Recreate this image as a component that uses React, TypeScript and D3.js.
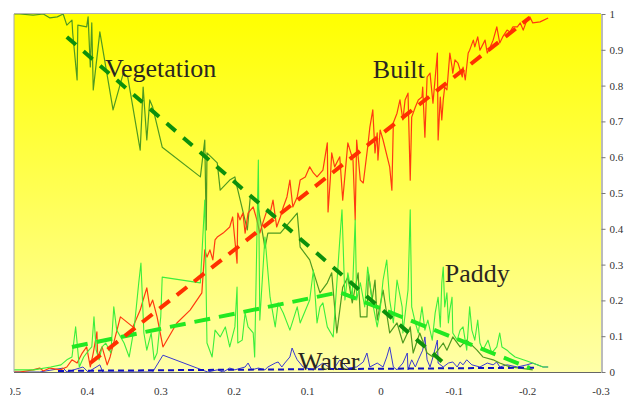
import { useEffect, useRef } from 'react'
import * as d3 from 'd3'

type Pt = [number, number]

// svg sits at page (8,8); the wrapper starts 2px further right so the "0.5" label is cut like the original
const W = 616
const H = 388
const PLOT = { l: 6, r: 593, t: 6, b: 364 }

const X_TICKS = [0.5, 0.4, 0.3, 0.2, 0.1, 0, -0.1, -0.2, -0.3]
const Y_TICKS = [0, 0.1, 0.2, 0.3, 0.4, 0.5, 0.6, 0.7, 0.8, 0.9, 1]

const vegetation: Pt[] = [
  [0.5, 1], [0.492, 1], [0.474, 0.997], [0.46, 1], [0.451, 0.989], [0.441, 0.992], [0.433, 1],
  [0.428, 0.969], [0.421, 0.983], [0.42, 0.947], [0.414, 0.816], [0.413, 0.969], [0.401, 0.964],
  [0.399, 0.992], [0.396, 0.852], [0.394, 0.975], [0.392, 0.788], [0.383, 0.95], [0.365, 0.732],
  [0.351, 0.835], [0.345, 0.824], [0.328, 0.62], [0.324, 0.796], [0.319, 0.648], [0.315, 0.76],
  [0.311, 0.74], [0.298, 0.628], [0.246, 0.545], [0.24, 0.648], [0.238, 0.397], [0.237, 0.612],
  [0.223, 0.584], [0.219, 0.508], [0.206, 0.536], [0.199, 0.545], [0.196, 0.517], [0.182, 0.397],
  [0.178, 0.489], [0.169, 0.48], [0.162, 0.397], [0.158, 0.346], [0.154, 0.388], [0.137, 0.388],
  [0.114, 0.444], [0.11, 0.349], [0.097, 0.313], [0.083, 0.221], [0.073, 0.249], [0.067, 0.277],
  [0.06, 0.109], [0.052, 0.237], [0.045, 0.265], [0.039, 0.193], [0.031, 0.277], [0.028, 0.154],
  [0.019, 0.154], [0.017, 0.277], [0.012, 0.201], [0.008, 0.257], [0.005, 0.145], [-0.003, 0.229],
  [-0.012, 0.109], [-0.022, 0.137], [-0.03, 0.081], [-0.04, 0.126], [-0.044, 0.053], [-0.053, 0.109],
  [-0.063, 0.053], [-0.071, 0.042], [-0.085, 0.081], [-0.09, 0.061], [-0.098, 0.098], [-0.108, 0.07],
  [-0.117, 0.089], [-0.131, 0.061], [-0.139, 0.042], [-0.153, 0.034], [-0.162, 0.025], [-0.176, 0.014],
  [-0.19, 0.011], [-0.207, 0.006],
]

const built: Pt[] = [
  [0.5, 0], [0.492, 0], [0.474, 0.006], [0.465, 0.011], [0.46, 0.003], [0.451, 0.011], [0.437, 0.006],
  [0.428, 0.014], [0.421, 0.034], [0.414, 0.025], [0.407, 0.053], [0.401, 0.07], [0.396, 0.014],
  [0.392, 0.053], [0.387, 0.112], [0.386, 0.042], [0.38, 0.07], [0.373, 0.02], [0.369, 0.042],
  [0.362, 0.098], [0.355, 0.154], [0.338, 0.126], [0.328, 0.173], [0.324, 0.201], [0.319, 0.235],
  [0.315, 0.182], [0.311, 0.201], [0.305, 0.154], [0.297, 0.07], [0.278, 0.137], [0.26, 0.173],
  [0.244, 0.221], [0.24, 0.341], [0.237, 0.321], [0.233, 0.341], [0.229, 0.313], [0.226, 0.369],
  [0.223, 0.377], [0.215, 0.388], [0.206, 0.405], [0.202, 0.433], [0.196, 0.304], [0.195, 0.444],
  [0.192, 0.425], [0.188, 0.444], [0.185, 0.388], [0.181, 0.444], [0.174, 0.461], [0.169, 0.425],
  [0.165, 0.388], [0.161, 0.416], [0.155, 0.453], [0.151, 0.444], [0.147, 0.48], [0.142, 0.405],
  [0.137, 0.433], [0.133, 0.461], [0.128, 0.489], [0.124, 0.536], [0.12, 0.461], [0.114, 0.489],
  [0.11, 0.536], [0.103, 0.545], [0.097, 0.573], [0.092, 0.556], [0.087, 0.545], [0.079, 0.564],
  [0.073, 0.64], [0.072, 0.447], [0.069, 0.536], [0.067, 0.612], [0.063, 0.573], [0.056, 0.601],
  [0.052, 0.48], [0.045, 0.64], [0.038, 0.592], [0.035, 0.425], [0.033, 0.648], [0.028, 0.536],
  [0.024, 0.528], [0.018, 0.628], [0.015, 0.684], [0.011, 0.732], [0.008, 0.612], [0.005, 0.668],
  [0.004, 0.592], [0.001, 0.676], [-0.003, 0.648], [-0.012, 0.573], [-0.015, 0.508], [-0.017, 0.696],
  [-0.022, 0.723], [-0.026, 0.76], [-0.03, 0.704], [-0.033, 0.76], [-0.037, 0.779], [-0.04, 0.536],
  [-0.042, 0.712], [-0.047, 0.74], [-0.051, 0.76], [-0.056, 0.768], [-0.057, 0.796], [-0.06, 0.656],
  [-0.063, 0.824], [-0.067, 0.835], [-0.071, 0.751], [-0.077, 0.891], [-0.078, 0.648], [-0.081, 0.768],
  [-0.083, 0.704], [-0.085, 0.76], [-0.087, 0.796], [-0.09, 0.788], [-0.094, 0.891], [-0.097, 0.852],
  [-0.098, 0.835], [-0.101, 0.872], [-0.105, 0.863], [-0.111, 0.824], [-0.112, 0.852], [-0.115, 0.816],
  [-0.119, 0.891], [-0.121, 0.899], [-0.126, 0.927], [-0.128, 0.908], [-0.132, 0.936], [-0.135, 0.899],
  [-0.142, 0.927], [-0.145, 0.891], [-0.149, 0.908], [-0.153, 0.927], [-0.158, 0.964], [-0.162, 0.919],
  [-0.166, 0.936], [-0.172, 0.955], [-0.176, 0.95], [-0.18, 0.964], [-0.186, 0.964], [-0.19, 0.975],
  [-0.194, 0.955], [-0.199, 0.983], [-0.203, 0.992], [-0.207, 0.975], [-0.217, 0.978], [-0.228, 0.989],
]

const paddy: Pt[] = [
  [0.5, 0.006], [0.473, 0.006], [0.45, 0.014], [0.436, 0.02], [0.428, 0.034], [0.421, 0.042],
  [0.416, 0.126], [0.411, 0.014], [0.405, 0.042], [0.398, 0.061], [0.394, 0.07], [0.391, 0.154],
  [0.388, 0.061], [0.384, 0.034], [0.38, 0.07], [0.375, 0.081], [0.368, 0.053], [0.364, 0.182],
  [0.36, 0.117], [0.35, 0.081], [0.343, 0.042], [0.336, 0.126], [0.33, 0.249], [0.327, 0.304],
  [0.323, 0.109], [0.319, 0.061], [0.313, 0.109], [0.309, 0.034], [0.305, 0.053], [0.3, 0.154],
  [0.298, 0.265], [0.246, 0.249], [0.24, 0.48], [0.237, 0.081], [0.23, 0.042], [0.226, 0.117],
  [0.219, 0.098], [0.212, 0.126], [0.206, 0.07], [0.199, 0.126], [0.196, 0.237], [0.195, 0.081],
  [0.189, 0.089], [0.185, 0.165], [0.181, 0.126], [0.174, 0.109], [0.172, 0.042], [0.167, 0.592],
  [0.165, 0.145], [0.158, 0.377], [0.151, 0.209], [0.144, 0.126], [0.14, 0.193], [0.133, 0.165],
  [0.124, 0.117], [0.114, 0.182], [0.11, 0.137], [0.097, 0.201], [0.092, 0.285], [0.087, 0.137],
  [0.083, 0.182], [0.079, 0.193], [0.073, 0.126], [0.065, 0.098], [0.056, 0.369], [0.053, 0.453],
  [0.049, 0.201], [0.045, 0.277], [0.039, 0.209], [0.035, 0.425], [0.033, 0.201], [0.028, 0.249],
  [0.022, 0.182], [0.018, 0.293], [0.012, 0.201], [0.005, 0.126], [0.001, 0.173], [-0.003, 0.257],
  [-0.008, 0.313], [-0.012, 0.201], [-0.017, 0.137], [-0.022, 0.257], [-0.029, 0.182], [-0.03, 0.109],
  [-0.037, 0.229], [-0.04, 0.453], [-0.042, 0.182], [-0.047, 0.137], [-0.051, 0.109], [-0.056, 0.182],
  [-0.06, 0.117], [-0.064, 0.145], [-0.07, 0.089], [-0.074, 0.165], [-0.078, 0.209], [-0.081, 0.126],
  [-0.083, 0.249], [-0.085, 0.293], [-0.087, 0.182], [-0.09, 0.221], [-0.092, 0.137], [-0.094, 0.173],
  [-0.097, 0.209], [-0.098, 0.109], [-0.104, 0.089], [-0.108, 0.117], [-0.112, 0.126], [-0.117, 0.061],
  [-0.121, 0.182], [-0.124, 0.117], [-0.128, 0.089], [-0.132, 0.145], [-0.135, 0.081], [-0.139, 0.061],
  [-0.146, 0.089], [-0.151, 0.053], [-0.158, 0.07], [-0.162, 0.109], [-0.165, 0.07], [-0.172, 0.061],
  [-0.176, 0.053], [-0.183, 0.042], [-0.187, 0.039], [-0.194, 0.034], [-0.203, 0.028], [-0.213, 0.02],
  [-0.221, 0.014], [-0.228, 0.014],
]

const water: Pt[] = [
  [0.5, 0], [0.465, 0], [0.433, 0.011], [0.428, 0], [0.406, 0.014], [0.399, 0], [0.383, 0.02],
  [0.379, 0], [0.311, 0], [0.297, 0.047], [0.244, 0.006], [0.236, 0], [0.223, 0.006], [0.215, 0],
  [0.206, 0.011], [0.199, 0.006], [0.185, 0.014], [0.181, 0.025], [0.176, 0.006], [0.167, 0.011],
  [0.158, 0.006], [0.154, 0.014], [0.144, 0.025], [0.14, 0.028], [0.135, 0.014], [0.131, 0.025],
  [0.124, 0.042], [0.121, 0.067], [0.117, 0.047], [0.114, 0.034], [0.106, 0.014], [0.092, 0.006],
  [0.079, 0.025], [0.065, 0.006], [0.056, 0.034], [0.045, 0.011], [0.033, 0.014], [0.024, 0.028],
  [0.019, 0.053], [0.015, 0.014], [0.005, 0.025], [-0.003, 0.014], [-0.008, 0.042], [-0.012, 0.07],
  [-0.017, 0.014], [-0.022, 0.006], [-0.03, 0.025], [-0.036, 0.053], [-0.037, 0.006], [-0.042, 0.034],
  [-0.047, 0.014], [-0.051, 0.034], [-0.057, 0.061], [-0.06, 0.098], [-0.063, 0.034], [-0.067, 0.014],
  [-0.071, 0.042], [-0.077, 0.089], [-0.078, 0.025], [-0.085, 0.014], [-0.092, 0.025], [-0.098, 0.028],
  [-0.104, 0.014], [-0.108, 0.028], [-0.112, 0.02], [-0.117, 0.034], [-0.124, 0.02], [-0.135, 0.014],
  [-0.145, 0.025], [-0.153, 0.02], [-0.158, 0.028], [-0.162, 0.014], [-0.172, 0.02], [-0.186, 0.014],
  [-0.199, 0.02], [-0.207, 0.025], [-0.221, 0.014], [-0.228, 0.014],
]

// fitted trend lines (dashed)
const vegetationTrend: Pt[] = [[0.428, 0.936], [-0.092, 0.014]]
const builtTrend: Pt[] = [[0.396, 0.025], [-0.203, 0.99]]
const paddyTrend: Pt[] = [[0.421, 0.07], [0.056, 0.223], [-0.203, 0.011]]
const waterTrend: Pt[] = [[0.44, 0.003], [-0.21, 0.012]]

const LABELS: { text: string; x: number; y: number }[] = [
  { text: 'Vegetation', x: 0.376, y: 0.824 },
  { text: 'Built', x: 0.011, y: 0.821 },
  { text: 'Paddy', x: -0.087, y: 0.251 },
  { text: 'Water', x: 0.113, y: 0.006 },
]

export default function App() {
  const svgRef = useRef<SVGSVGElement>(null)

  useEffect(() => {
    const svg = d3.select(svgRef.current)
    svg.selectAll('*').remove()
    svg.attr('width', W).attr('height', H)

    const xSc = d3.scaleLinear().domain([0.5, -0.3]).range([PLOT.l, PLOT.r])
    const ySc = d3.scaleLinear().domain([0, 1]).range([PLOT.b, PLOT.t])
    const line = d3.line<Pt>().x((p) => xSc(p[0])).y((p) => ySc(p[1]))

    const grad = svg.append('defs').append('linearGradient').attr('id', 'bg').attr('x1', 0).attr('x2', 0).attr('y1', 0).attr('y2', 1)
    grad.append('stop').attr('offset', '0%').attr('stop-color', '#ffff00')
    grad.append('stop').attr('offset', '100%').attr('stop-color', '#ffffa8')

    svg.append('rect').attr('x', PLOT.l).attr('y', PLOT.t).attr('width', PLOT.r - PLOT.l).attr('height', PLOT.b - PLOT.t).attr('fill', 'url(#bg)')

    const series: [Pt[], string, number][] = [
      [water, '#3a3ad0', 1],
      [vegetation, '#4f9a20', 1.2],
      [built, '#ff3a10', 1.2],
      [paddy, '#3cee3c', 1.1],
    ]
    series.forEach(([d, c, w]) => {
      svg.append('path').datum(d).attr('d', line).attr('fill', 'none').attr('stroke', c).attr('stroke-width', w).attr('stroke-linejoin', 'round')
    })

    const trends: [Pt[], string, number, string][] = [
      [waterTrend, '#1010c0', 2, '6,4'],
      [paddyTrend, '#22e822', 4, '16,9'],
      [vegetationTrend, '#0c900c', 4, '12,10'],
      [builtTrend, '#ff3000', 4, '13,9'],
    ]
    trends.forEach(([d, c, w, dash]) => {
      svg.append('path').datum(d).attr('d', line).attr('fill', 'none').attr('stroke', c).attr('stroke-width', w).attr('stroke-dasharray', dash)
    })

    // frame: light grey left/top, darker bottom and right axis
    svg.append('line').attr('x1', PLOT.l).attr('x2', PLOT.l).attr('y1', PLOT.t).attr('y2', PLOT.b).attr('stroke', '#a8a8a8')
    svg.append('line').attr('x1', PLOT.l).attr('x2', PLOT.r).attr('y1', PLOT.t - 0.5).attr('y2', PLOT.t - 0.5).attr('stroke', '#b0b0b0')
    svg.append('line').attr('x1', PLOT.l).attr('x2', PLOT.r).attr('y1', PLOT.b + 0.5).attr('y2', PLOT.b + 0.5).attr('stroke', '#666')

    const yAxis = svg.append('g').attr('transform', `translate(${PLOT.r + 0.5},0)`)
      .call(d3.axisRight(ySc).tickValues(Y_TICKS).tickSize(4).tickSizeOuter(0).tickFormat((v) => (v === 0 ? '0' : v === 1 ? '1' : d3.format('.1f')(v as number))))
    yAxis.select('.domain').attr('stroke', '#777')
    yAxis.selectAll('.tick line').attr('stroke', '#777')
    yAxis.selectAll('.tick text').attr('fill', '#333').attr('font-size', '11px').attr('font-family', '"Liberation Serif", "Times New Roman", serif').attr('x', 8)

    X_TICKS.forEach((v) => {
      svg.append('text').attr('x', xSc(v)).attr('y', 387).attr('text-anchor', 'middle').attr('fill', '#333')
        .attr('font-size', '11px').attr('font-family', '"Liberation Serif", "Times New Roman", serif')
        .text(v === 0 ? '0' : v.toFixed(1))
    })

    LABELS.forEach((l) => {
      svg.append('text').attr('x', xSc(l.x)).attr('y', ySc(l.y)).attr('fill', '#2a2622')
        .attr('font-size', '26px').attr('font-family', '"Liberation Serif", "Times New Roman", serif').text(l.text)
    })
  }, [])

  return (
    <div style={{ position: 'absolute', left: 10, top: 8, width: W - 2, height: H, overflow: 'hidden', background: '#fff' }}>
      <svg ref={svgRef} style={{ display: 'block', marginLeft: -2 }} />
    </div>
  )
}
